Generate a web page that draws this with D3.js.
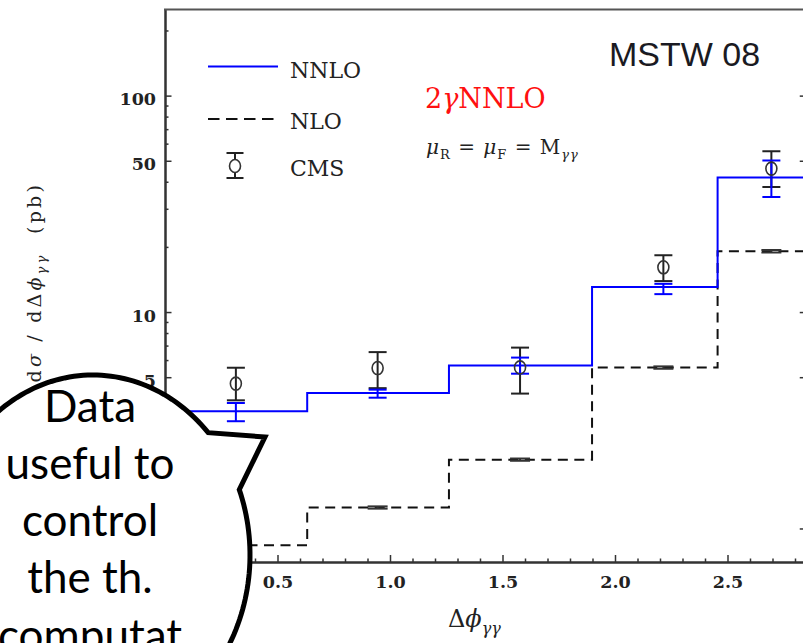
<!DOCTYPE html>
<html><head><meta charset="utf-8">
<script src="https://cdn.jsdelivr.net/npm/d3@7"></script>
<style>
html,body{margin:0;padding:0;background:#fff;}
svg{display:block;}
</style></head><body>
<svg id="chart" width="803" height="643"></svg>
<script>
// Δφγγ bin edges (rad), shared by both theory histograms
const binEdges = [0, 0.632, 1.262, 1.898, 2.456, 2.85];
// NNLO prediction per bin (pb) with its scale band
const nnloValues = [3.48, 4.23, 5.67, 13.05, 41.8];
const nnloLow  = [3.13, 4.02, 5.19, 12.1, 34.0];
const nnloHigh = [3.80, 4.38, 6.16, 13.5, 50.2];
// NLO prediction per bin (pb)
const nloValues = [0.836, 1.25, 2.08, 5.54, 19.1];
const nloLow  = [0.826, 1.235, 2.055, 5.47, 18.85];
const nloHigh = [0.846, 1.265, 2.105, 5.61, 19.35];
// CMS measurement
const cmsX      = [0.315, 0.945, 1.578, 2.215, 2.695];
const cmsValues = [4.67, 5.51, 5.55, 16.1, 46.0];
const cmsLow    = [3.91, 4.45, 4.20, 13.9, 37.8];
const cmsHigh   = [5.53, 6.53, 6.85, 18.3, 55.4];
// axis ticks
const yMajorTicks = [1, 5, 10, 50, 100];
const yTickLabels = ["", "5", "10", "50", "100"];
const yMinorTicks = [0.7, 0.8, 0.9, 2, 3, 4, 6, 7, 8, 9, 20, 30, 40, 60, 70, 80, 90, 200];
const xMajorTicks = [0.5, 1.0, 1.5, 2.0, 2.5];
const xTickLabels = ["0.5", "1.0", "1.5", "2.0", "2.5"];
const xMinorTicks = [0.1, 0.2, 0.3, 0.4, 0.6, 0.7, 0.8, 0.9, 1.1, 1.2, 1.3, 1.4, 1.6, 1.7, 1.8, 1.9,
                     2.1, 2.2, 2.3, 2.4, 2.6, 2.7, 2.8];
const bubbleLines = ["Data", "useful to", "control", "the th.", "computat"];

const svg = d3.select("#chart");
const x = d3.scaleLinear().domain([0, 2.85]).range([165, 806.25]);
const y = d3.scaleLog().domain([0.7, 250]).range([562, 9.5]);
const [x0, x1] = x.range();
const [yb, yt] = y.range();

const serif = "'DejaVu Serif', serif";

svg.append("clipPath").attr("id", "plotClip")
  .append("rect").attr("x", x0).attr("y", yt).attr("width", x1 - x0).attr("height", yb - yt);

// ---- axes ----
function styleAxis(g) {
  g.select(".domain").attr("stroke", "#333").attr("stroke-width", 2);
  g.selectAll(".tick line").attr("stroke", "#333").attr("stroke-width", 1.5);
}
svg.append("g").attr("transform", `translate(${x0},0)`)
  .call(d3.axisLeft(y).tickValues(yMinorTicks).tickSize(-3.5).tickSizeOuter(0).tickFormat(""))
  .call(styleAxis);
const yAx = svg.append("g").attr("transform", `translate(${x0},0)`)
  .call(d3.axisLeft(y).tickValues(yMajorTicks).tickSize(-6.5).tickSizeOuter(0).tickPadding(9)
        .tickFormat((d, i) => yTickLabels[i]))
  .call(styleAxis);
yAx.selectAll(".tick text").attr("dy", "0.52em")
  .style("font-family", serif).style("font-size", "17.5px").style("font-weight", "bold").attr("fill", "#222");

// right frame with inward ticks
svg.append("g").attr("transform", `translate(${x1},0)`)
  .call(d3.axisRight(y).tickValues(yMajorTicks).tickSize(-6.5).tickSizeOuter(0).tickFormat(""))
  .call(styleAxis);

svg.append("g").attr("transform", `translate(0,${yb})`)
  .call(d3.axisBottom(x).tickValues(xMinorTicks).tickSize(-3.5).tickSizeOuter(0).tickFormat(""))
  .call(styleAxis);
const xAx = svg.append("g").attr("transform", `translate(0,${yb})`)
  .call(d3.axisBottom(x).tickValues(xMajorTicks).tickSize(-7).tickSizeOuter(0).tickPadding(14)
        .tickFormat((d, i) => xTickLabels[i]))
  .call(styleAxis);
xAx.selectAll(".tick text")
  .style("font-family", serif).style("font-size", "17.5px").style("font-weight", "bold").attr("fill", "#222");

// top frame
svg.append("line").attr("x1", x0 - 1).attr("x2", x1).attr("y1", yt).attr("y2", yt)
  .attr("stroke", "#555").attr("stroke-width", 2);

// ---- histograms ----
const plot = svg.append("g").attr("clip-path", "url(#plotClip)");
function stepPoints(vals) {
  return vals.flatMap((v, i) => [[binEdges[i], v], [binEdges[i + 1], v]]);
}
const line = d3.line().x(d => x(d[0])).y(d => y(d[1]));

plot.append("path").attr("d", line(stepPoints(nloValues)))
  .attr("fill", "none").attr("stroke", "#111").attr("stroke-width", 2)
  .attr("stroke-dasharray", "10,6.5");
plot.append("path").attr("d", line(stepPoints(nnloValues)))
  .attr("fill", "none").attr("stroke", "#0000ff").attr("stroke-width", 2);

// error bars
function errorBars(g, xs, lo, hi, color, width, capW) {
  xs.forEach((xv, i) => {
    const px = x(xv);
    g.append("line").attr("x1", px).attr("x2", px).attr("y1", y(lo[i])).attr("y2", y(hi[i]))
      .attr("stroke", color).attr("stroke-width", width);
    [lo[i], hi[i]].forEach(v => {
      g.append("line").attr("x1", px - capW / 2).attr("x2", px + capW / 2)
        .attr("y1", y(v)).attr("y2", y(v)).attr("stroke", color).attr("stroke-width", width);
    });
  });
}
errorBars(plot, cmsX, nloLow, nloHigh, "#333", 2, 20);
errorBars(plot, cmsX, cmsLow, cmsHigh, "#222", 2, 18);
errorBars(plot, cmsX, nnloLow, nnloHigh, "#0000ff", 2, 18);
plot.selectAll("ellipse.cms").data(cmsX).join("ellipse").attr("class", "cms")
  .attr("cx", d => x(d)).attr("cy", (d, i) => y(cmsValues[i]))
  .attr("rx", 5.5).attr("ry", 6.5).attr("fill", "none").attr("stroke", "#333").attr("stroke-width", 1.6);

// ---- legend ----
const leg = svg.append("g");
leg.append("line").attr("x1", 208).attr("x2", 278).attr("y1", 66.5).attr("y2", 66.5)
  .attr("stroke", "#0000ff").attr("stroke-width", 2);
leg.append("line").attr("x1", 208).attr("x2", 278).attr("y1", 119).attr("y2", 119)
  .attr("stroke", "#111").attr("stroke-width", 2).attr("stroke-dasharray", "11.5,6.5");
leg.append("line").attr("x1", 235).attr("x2", 235).attr("y1", 153).attr("y2", 178)
  .attr("stroke", "#222").attr("stroke-width", 2);
[153, 178].forEach(v => leg.append("line").attr("x1", 226.5).attr("x2", 243.5)
  .attr("y1", v).attr("y2", v).attr("stroke", "#222").attr("stroke-width", 2));
leg.append("ellipse").attr("cx", 235).attr("cy", 166).attr("rx", 5.5).attr("ry", 6.5)
  .attr("fill", "#fff").attr("stroke", "#333").attr("stroke-width", 1.6);
[["NNLO", 78], ["NLO", 129], ["CMS", 176]].forEach(([t, by]) => {
  leg.append("text").attr("x", 290).attr("y", by).text(t)
    .style("font-family", serif).style("font-size", "22px").attr("fill", "#222");
});

// ---- annotations ----
svg.append("text").attr("x", 609).attr("y", 66).text("MSTW 08")
  .style("font-family", "'Liberation Sans', Arial, sans-serif").style("font-size", "34px").attr("fill", "#1a1a22");

const red = svg.append("text").attr("x", 425).attr("y", 108)
  .style("font-family", serif).style("font-size", "27px").attr("fill", "#ff1010");
red.append("tspan").text("2");
red.append("tspan").style("font-style", "italic").text("γ");
red.append("tspan").text("NNLO");

const mu = svg.append("text").attr("x", 426).attr("y", 154).attr("xml:space", "preserve")
  .style("font-family", serif).style("font-size", "20px").style("letter-spacing", "1px").attr("fill", "#222");
mu.append("tspan").style("font-style", "italic").text("μ");
mu.append("tspan").attr("dy", 5).style("font-size", "13px").text("R");
mu.append("tspan").attr("dy", -5).text(" = ");
mu.append("tspan").style("font-style", "italic").text("μ");
mu.append("tspan").attr("dy", 5).style("font-size", "13px").text("F");
mu.append("tspan").attr("dy", -5).text(" = M");
mu.append("tspan").attr("dy", 5).style("font-size", "13px").style("font-style", "italic").text("γγ");

// x-axis title
const xt = svg.append("text").attr("x", 448).attr("y", 627)
  .style("font-family", serif).style("font-size", "24px").attr("fill", "#222");
xt.append("tspan").text("Δ");
xt.append("tspan").style("font-style", "italic").text("ϕ");
xt.append("tspan").attr("dy", 7).style("font-size", "16px").style("font-style", "italic").text("γγ");

// y-axis title
const yt2 = svg.append("text").attr("transform", "translate(41,182) rotate(-90)")
  .attr("text-anchor", "end").attr("xml:space", "preserve")
  .style("font-family", serif).style("font-size", "19px").style("letter-spacing", "3.2px").attr("fill", "#222");
yt2.append("tspan").text("d");
yt2.append("tspan").style("font-style", "italic").text("σ");
yt2.append("tspan").text(" / dΔ");
yt2.append("tspan").style("font-style", "italic").text("ϕ");
yt2.append("tspan").attr("dy", 5).style("font-size", "13px").style("font-style", "italic").text("γγ");
yt2.append("tspan").attr("dy", -5).text("  (pb)");

// ---- speech bubble ----
const bcx = 93, bcy = 555, brx = 157, bry = 180;
const tStart = -21.3 * Math.PI / 180, tEnd = (360 - 42.8) * Math.PI / 180;
const arcPts = d3.range(0, 201).map(k => {
  const t = tStart + (tEnd - tStart) * k / 200;
  return [bcx + brx * Math.cos(t), bcy + bry * Math.sin(t)];
});
arcPts.push([265, 437]);
svg.append("path").attr("d", "M" + arcPts.map(p => p.join(",")).join("L") + "Z")
  .attr("fill", "#fff").attr("stroke", "#000").attr("stroke-width", 5).attr("stroke-linejoin", "miter");
svg.append("g").selectAll("text").data(bubbleLines).join("text")
  .attr("x", 90).attr("y", (d, i) => 421.5 + i * 57.3).attr("text-anchor", "middle")
  .style("font-family", "Lato, sans-serif").style("font-size", "44px").attr("fill", "#000")
  .text(d => d);
</script>
</body></html>
